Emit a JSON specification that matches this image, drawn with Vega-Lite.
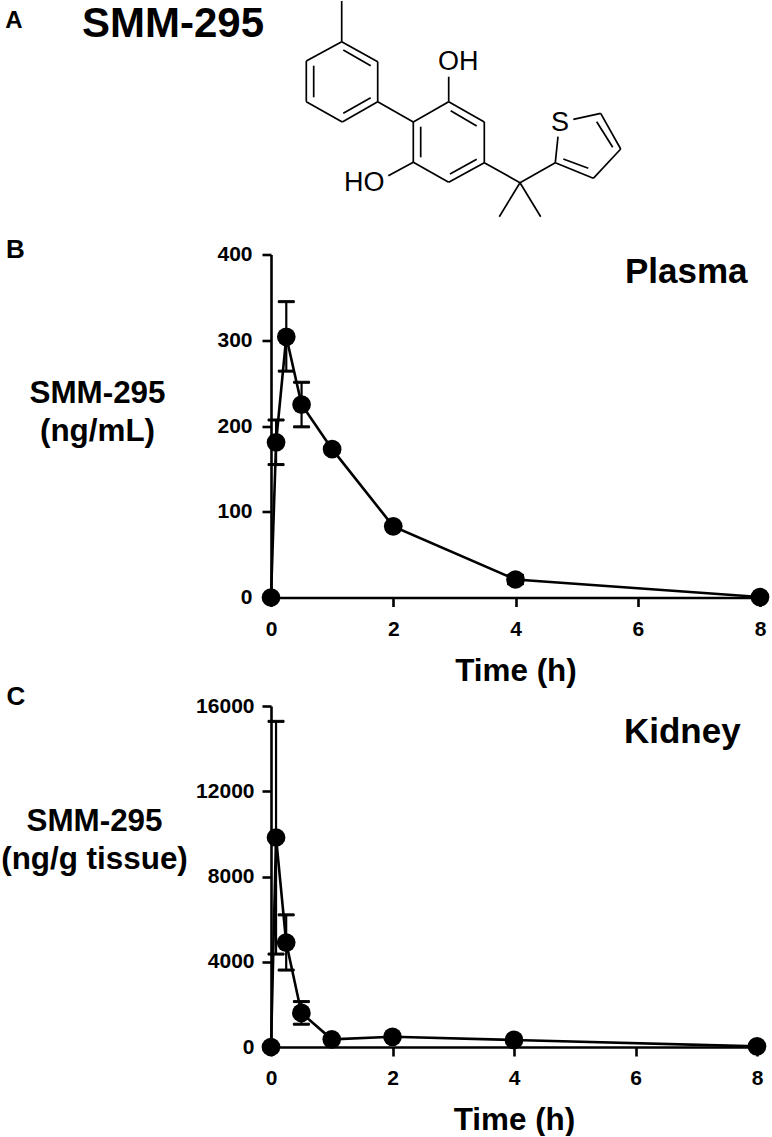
{
"$schema":"https://vega.github.io/schema/vega-lite/v6.json",
"padding":0,
"background":"white",
"spacing":-4.5,
"config":{"view":{"stroke":null},"font":"Liberation Sans"},
"datasets":{
"plasma":[{"t":0,"v":0},{"t":0.083,"v":181,"hi":207,"lo":155},{"t":0.25,"v":304,"hi":345,"lo":264},{"t":0.5,"v":225,"hi":251,"lo":199},{"t":1,"v":173},{"t":2,"v":83},{"t":4,"v":21,"hi":26,"lo":16},{"t":8,"v":0.5}],
"kidney":[{"t":0,"v":0},{"t":0.083,"v":9830,"hi":15280,"lo":4360},{"t":0.25,"v":4900,"hi":6200,"lo":3610},{"t":0.5,"v":1600,"hi":2130,"lo":1070},{"t":1,"v":360},{"t":2,"v":480},{"t":4,"v":330},{"t":8,"v":30}],
"bonds":[
{"x":341.7,"y":1,"x2":341.7,"y2":41.7},{"x":341.7,"y":41.7,"x2":377.7,"y2":61.7},{"x":377.7,"y":61.7,"x2":377.7,"y2":101.7},{"x":377.7,"y":101.7,"x2":342.3,"y2":122},{"x":342.3,"y":122,"x2":306.3,"y2":101.7},{"x":306.3,"y":101.7,"x2":306.3,"y2":61},{"x":306.3,"y":61,"x2":341.7,"y2":41.7},
{"x":343.3,"y":50,"x2":370.7,"y2":65.7},{"x":370.7,"y":97.7,"x2":343.3,"y2":113.3},{"x":313.7,"y":65.7,"x2":313.7,"y2":97.3},
{"x":377.7,"y":101.7,"x2":413.3,"y2":122},
{"x":413.3,"y":122,"x2":448.7,"y2":101.7},{"x":448.7,"y":101.7,"x2":484.3,"y2":122},{"x":484.3,"y":122,"x2":484.3,"y2":162.7},{"x":484.3,"y":162.7,"x2":448.7,"y2":182.3},{"x":448.7,"y":182.3,"x2":413.3,"y2":162.3},{"x":413.3,"y":162.3,"x2":413.3,"y2":122},
{"x":450.7,"y":110.7,"x2":476.7,"y2":126},{"x":476.7,"y":159.3,"x2":450,"y2":174},{"x":420.7,"y":126.7,"x2":420.7,"y2":157.3},
{"x":448.7,"y":101.7,"x2":448.7,"y2":76.7},{"x":413.3,"y":162.3,"x2":388.3,"y2":175.7},
{"x":484.3,"y":162.7,"x2":520,"y2":182.7},{"x":520,"y":182.7,"x2":499.3,"y2":216.7},{"x":520,"y":182.7,"x2":540.7,"y2":216.7},{"x":520,"y":182.7,"x2":555.3,"y2":162.7},
{"x":555.3,"y":162.7,"x2":558,"y2":136.7},{"x":573.3,"y":119.3,"x2":600.7,"y2":113.3},{"x":600.7,"y":113.3,"x2":620.7,"y2":149},{"x":620.7,"y":149,"x2":593.3,"y2":178.3},{"x":593.3,"y":178.3,"x2":555.3,"y2":162.7},
{"x":596.7,"y":121.7,"x2":612.7,"y2":147.3},{"x":588.3,"y":168.3,"x2":563.3,"y2":159}
]},
"vconcat":[
{"width":489,"height":240.5,
"encoding":{"x":{"field":"x","type":"quantitative","scale":{"domain":[271,760],"nice":false},"axis":null},"y":{"field":"y","type":"quantitative","scale":{"domain":[240.5,0],"nice":false},"axis":null}},
"layer":[
{"data":{"name":"bonds"},"mark":{"type":"rule","stroke":"black","strokeWidth":1.7,"clip":false},"encoding":{"x2":{"field":"x2"},"y2":{"field":"y2"}}},
{"data":{"values":[{"x":458.3,"y":61.7,"s":"OH"},{"x":364.3,"y":182.7,"s":"HO"},{"x":560,"y":122.7,"s":"S"}]},"mark":{"type":"text","fontSize":27,"align":"center","baseline":"middle"},"encoding":{"text":{"field":"s"}}},
{"data":{"values":[{"x":82,"y":24,"s":"SMM-295"}]},"mark":{"type":"text","fontSize":42,"fontWeight":"bold","align":"left","baseline":"middle"},"encoding":{"text":{"field":"s"}}},
{"data":{"values":[{"x":14,"y":21,"s":"A"}]},"mark":{"type":"text","fontSize":24,"fontWeight":"bold","align":"center","baseline":"middle"},"encoding":{"text":{"field":"s"}}}
]},
{"width":489,"height":343,
"layer":[
{"data":{"name":"plasma"},"mark":{"type":"line","stroke":"black","strokeWidth":2.6},
"encoding":{"x":{"field":"t","type":"quantitative","scale":{"domain":[0,8],"nice":false},"axis":{"values":[0,2,4,6,8],"format":"d","title":"Time (h)","grid":false,"domainColor":"black","domainWidth":2.6,"tickColor":"black","tickWidth":2.6,"tickSize":9,"labelFontSize":21,"labelFontWeight":"bold","labelColor":"black","labelPadding":12,"labelFlush":false,"titleFontSize":31.4,"titleFontWeight":"bold","titleColor":"black","titlePadding":16}},
"y":{"field":"v","type":"quantitative","scale":{"domain":[0,400],"nice":false},"axis":{"values":[0,100,200,300,400],"title":["SMM-295","(ng/mL)"],"grid":false,"domainColor":"black","domainWidth":2.6,"tickColor":"black","tickWidth":2.6,"tickSize":9,"labelFontSize":21,"labelFontWeight":"bold","labelColor":"black","labelPadding":10,"titleFontSize":31.4,"titleFontWeight":"bold","titleColor":"black","titleAngle":0,"titleAlign":"center","titleBaseline":"middle","titleX":-174,"titleY":138.5,"titleLineHeight":38}}}},
{"data":{"name":"plasma"},"mark":{"type":"rule","stroke":"black","strokeWidth":2.2},"encoding":{"x":{"field":"t","type":"quantitative"},"y":{"field":"hi","type":"quantitative"},"y2":{"field":"lo"}}},
{"data":{"name":"plasma"},"mark":{"type":"tick","stroke":"black","orient":"horizontal","size":16,"thickness":2,"color":"black","opacity":1},"encoding":{"x":{"field":"t","type":"quantitative"},"y":{"field":"hi","type":"quantitative"}}},
{"data":{"name":"plasma"},"mark":{"type":"tick","stroke":"black","orient":"horizontal","size":16,"thickness":2,"color":"black","opacity":1},"encoding":{"x":{"field":"t","type":"quantitative"},"y":{"field":"lo","type":"quantitative"}}},
{"data":{"name":"plasma"},"mark":{"type":"circle","color":"black","size":350,"opacity":1,"clip":false},"encoding":{"x":{"field":"t","type":"quantitative"},"y":{"field":"v","type":"quantitative"}}},
{"data":{"values":[{"t":5.79,"v":380,"s":"Plasma"}]},"mark":{"type":"text","fontSize":35,"fontWeight":"bold","align":"left","baseline":"middle"},"encoding":{"x":{"field":"t","type":"quantitative"},"y":{"field":"v","type":"quantitative"},"text":{"field":"s"}}},
{"data":{"values":[{"t":-4.18,"v":405,"s":"B"}]},"mark":{"type":"text","fontSize":26,"fontWeight":"bold","align":"center","baseline":"middle"},"encoding":{"x":{"field":"t","type":"quantitative"},"y":{"field":"v","type":"quantitative"},"text":{"field":"s"}}}
]},
{"width":486,"height":341,
"layer":[
{"data":{"name":"kidney"},"mark":{"type":"line","stroke":"black","strokeWidth":2.6},
"encoding":{"x":{"field":"t","type":"quantitative","scale":{"domain":[0,8],"nice":false},"axis":{"values":[0,2,4,6,8],"format":"d","title":"Time (h)","grid":false,"domainColor":"black","domainWidth":2.6,"tickColor":"black","tickWidth":2.6,"tickSize":9,"labelFontSize":21,"labelFontWeight":"bold","labelColor":"black","labelPadding":11.5,"labelFlush":false,"titleFontSize":31.4,"titleFontWeight":"bold","titleColor":"black","titlePadding":15.5}},
"y":{"field":"v","type":"quantitative","scale":{"domain":[0,16000],"nice":false},"axis":{"values":[0,4000,8000,12000,16000],"format":"d","title":["SMM-295","(ng/g tissue)"],"grid":false,"domainColor":"black","domainWidth":2.6,"tickColor":"black","tickWidth":2.6,"tickSize":9,"labelFontSize":21,"labelFontWeight":"bold","labelColor":"black","labelPadding":8,"titleFontSize":31.4,"titleFontWeight":"bold","titleColor":"black","titleAngle":0,"titleAlign":"center","titleBaseline":"middle","titleX":-177,"titleY":115,"titleLineHeight":38}}}},
{"data":{"name":"kidney"},"mark":{"type":"rule","stroke":"black","strokeWidth":2.2},"encoding":{"x":{"field":"t","type":"quantitative"},"y":{"field":"hi","type":"quantitative"},"y2":{"field":"lo"}}},
{"data":{"name":"kidney"},"mark":{"type":"tick","stroke":"black","orient":"horizontal","size":16,"thickness":2,"color":"black","opacity":1},"encoding":{"x":{"field":"t","type":"quantitative"},"y":{"field":"hi","type":"quantitative"}}},
{"data":{"name":"kidney"},"mark":{"type":"tick","stroke":"black","orient":"horizontal","size":16,"thickness":2,"color":"black","opacity":1},"encoding":{"x":{"field":"t","type":"quantitative"},"y":{"field":"lo","type":"quantitative"}}},
{"data":{"name":"kidney"},"mark":{"type":"circle","color":"black","size":350,"opacity":1,"clip":false},"encoding":{"x":{"field":"t","type":"quantitative"},"y":{"field":"v","type":"quantitative"}}},
{"data":{"values":[{"t":5.81,"v":14790,"s":"Kidney"}]},"mark":{"type":"text","fontSize":35,"fontWeight":"bold","align":"left","baseline":"middle"},"encoding":{"x":{"field":"t","type":"quantitative"},"y":{"field":"v","type":"quantitative"},"text":{"field":"s"}}},
{"data":{"values":[{"t":-4.2,"v":16430,"s":"C"}]},"mark":{"type":"text","fontSize":26,"fontWeight":"bold","align":"center","baseline":"middle"},"encoding":{"x":{"field":"t","type":"quantitative"},"y":{"field":"v","type":"quantitative"},"text":{"field":"s"}}}
]}
]}
